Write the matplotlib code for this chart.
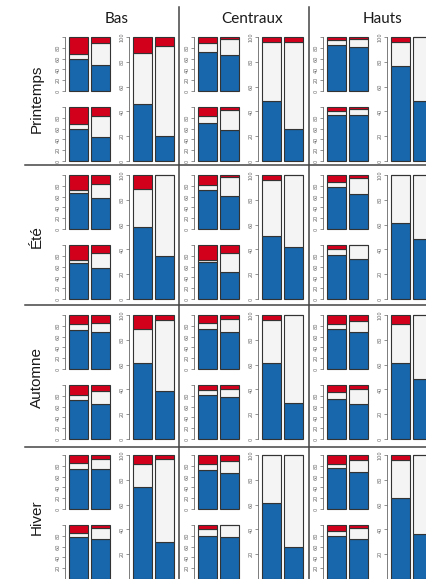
import matplotlib.pyplot as plt
import numpy as np

saisons = ['Printemps', 'Été', 'Automne', 'Hiver']
zones = ['Bas', 'Centraux', 'Hauts']

# parts en % : bleu en bas, blanc au milieu, rouge = reste jusqu'à 100
# [saison][zone] -> [barre 1, barre 2]
bleu_haut = [
    [[60, 48], [72, 67], [86, 81]],
    [[67, 57], [73, 61], [77, 64]],
    [[72, 68], [74, 68], [74, 68]],
    [[74, 75], [72, 66], [76, 69]],
]
blanc_haut = [
    [[9, 40], [16, 29], [9, 15]],
    [[5, 26], [9, 35], [10, 31]],
    [[11, 17], [12, 25], [10, 20]],
    [[12, 18], [11, 22], [8, 22]],
]
bleu_bas = [
    [[59, 45], [71, 58], [86, 85]],
    [[67, 58], [69, 50], [81, 74]],
    [[72, 65], [82, 77], [74, 65]],
    [[78, 74], [79, 77], [79, 74]],
]
blanc_bas = [
    [[9, 38], [12, 36], [7, 12]],
    [[5, 28], [3, 36], [12, 26]],
    [[10, 24], [8, 15], [13, 27]],
    [[8, 20], [14, 23], [9, 21]],
]
bleu_grand = [
    [[46, 20], [48, 26], [77, 48]],
    [[58, 35], [51, 42], [61, 48]],
    [[61, 39], [61, 29], [61, 48]],
    [[74, 30], [61, 26], [65, 36]],
]
blanc_grand = [
    [[41, 73], [48, 70], [19, 52]],
    [[31, 65], [45, 58], [39, 52]],
    [[28, 57], [35, 71], [32, 52]],
    [[19, 67], [39, 74], [31, 64]],
]

BLEU = '#1866ab'
BLANC = '#f4f4f4'
ROUGE = '#d3001c'
W, H = 427, 579

fig = plt.figure(figsize=(W / 100, H / 100), dpi=100)


def boite(x, y, w, h):
    # coordonnées en pixels depuis le coin haut gauche
    return fig.add_axes([x / W, 1 - (y + h) / H, w / W, h / H])


def panneau(x, y, h, bleu, blanc, etiq_100):
    ax = boite(x, y, 47, h)
    bleu = np.array(bleu)
    blanc = np.array(blanc)
    rouge = 100 - bleu - blanc
    pos = [0, 1]
    kw = dict(width=0.86, edgecolor='#333333', linewidth=0.8, clip_on=False)
    ax.bar(pos, bleu, color=BLEU, **kw)
    ax.bar(pos, blanc, bottom=bleu, color=BLANC, **kw)
    ax.bar(pos, rouge, bottom=bleu + blanc, color=ROUGE, **kw)
    ax.set_xlim(-0.62, 1.5)
    ax.set_ylim(0, 100)
    for s in ['top', 'right', 'bottom']:
        ax.spines[s].set_visible(False)
    ax.spines['left'].set_color('#666666')
    ax.spines['left'].set_linewidth(0.6)
    ax.set_xticks([])
    ticks = [0, 20, 40, 60, 80, 100]
    ax.set_yticks(ticks)
    labels = [str(t) for t in ticks]
    if not etiq_100:
        labels[-1] = ''
    ax.set_yticklabels(labels, rotation=90, va='center', fontsize=3.6, color='#666666')
    ax.tick_params(axis='y', length=2, width=0.5, pad=1, colors='#666666')
    ax.patch.set_alpha(0)
    return ax


hauts_rangs = [37, 175, 315, 455]
x_titres = [117, 252, 383]

for i, saison in enumerate(saisons):
    y0 = hauts_rangs[i]
    for j, zone in enumerate(zones):
        x0 = 65 + 129 * j
        panneau(x0, y0, 54, bleu_haut[i][j], blanc_haut[i][j], False)
        panneau(x0, y0 + 70, 54, bleu_bas[i][j], blanc_bas[i][j], False)
        panneau(x0 + 64, y0, 124, bleu_grand[i][j], blanc_grand[i][j], True)
    fig.text(37 / W, 1 - (y0 + 62) / H, saison, rotation=90, ha='center', va='center',
             fontsize=11, family='Liberation Sans', color='#1a1a1a')

for j, zone in enumerate(zones):
    fig.text(x_titres[j] / W, 1 - 19 / H, zone, ha='center', va='center',
             fontsize=11, family='Lato', color='#1a1a1a')

# séparateurs entre rangs et colonnes
for y in [165, 305, 447]:
    fig.add_artist(plt.Line2D([25 / W, 1], [1 - y / H] * 2, color='#444444', linewidth=1.1))
for x in [179, 309]:
    fig.add_artist(plt.Line2D([x / W] * 2, [1 - 7 / H, 0], color='#444444', linewidth=1.1))

fig.savefig('out.png', dpi=100)
